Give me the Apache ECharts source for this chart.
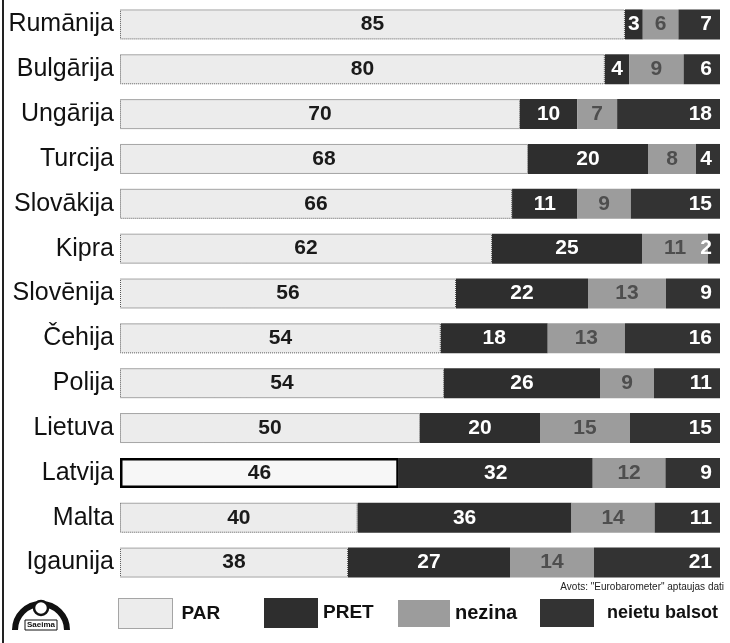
<!DOCTYPE html>
<html>
<head>
<meta charset="utf-8">
<script src="https://cdn.jsdelivr.net/npm/echarts@6/dist/echarts.min.js"></script>
<style>
html,body{margin:0;padding:0;background:#fff;}
#chart{width:730px;height:643px;}
</style>
</head>
<body>
<div id="chart"></div>
<script>
const countries = ["Rumānija","Bulgārija","Ungārija","Turcija","Slovākija","Kipra","Slovēnija","Čehija","Polija","Lietuva","Latvija","Malta","Igaunija"];
const par    = [85,80,70,68,66,62,56,54,54,50,46,40,38];
const pret   = [3,4,10,20,11,25,22,18,26,20,32,36,27];
const nezina = [6,9,7,8,9,11,13,13,9,15,12,14,14];
const neietu = [7,6,18,4,15,2,9,16,11,15,9,11,21];
const seriesNames = ["PAR","PRET","nezina","neietu balsot"];
const sourceNote = 'Avots: "Eurobarometer" aptaujas dati';

const raw = [par, pret, nezina, neietu];
const totals = countries.map((c, i) => par[i] + pret[i] + nezina[i] + neietu[i]);
// each bar shown as share of its row total (bars have equal length as in the source)
const share = raw.map(arr => arr.map((v, i) => v / totals[i] * 100));

const colors = ["#ececec", "#2e2e2e", "#9c9c9c", "#333333"];
const labelColors = ["#1a1a1a", "#ffffff", "#4e4e4e", "#ffffff"];
const FONT = 'Liberation Sans, Arial, sans-serif';

const chart = echarts.init(document.getElementById('chart'));

const series = seriesNames.map((name, k) => ({
  name: name,
  type: 'bar',
  stack: 'total',
  barWidth: 30,
  itemStyle: k === 0
    ? { color: colors[0], borderColor: '#555', borderWidth: 1, borderType: 'dotted' }
    : { color: colors[k] },
  label: {
    show: true,
    position: k === 3 ? 'insideRight' : 'inside',
    distance: 8,
    color: labelColors[k],
    fontFamily: FONT,
    fontWeight: 'bold',
    fontSize: 21,
    formatter: p => String(raw[k][p.dataIndex])
  },
  data: share[k].map((v, i) => {
    if (k === 0 && countries[i] === 'Latvija') {
      return { value: v, itemStyle: { color: '#f7f7f7', borderColor: '#000', borderWidth: 2.5, borderType: 'solid' } };
    }
    return v;
  })
}));

function legendFor(name, left, top, textExtra, extra) {
  return Object.assign({
    data: [name],
    left: left,
    top: top,
    padding: 0,
    icon: 'rect',
    itemWidth: 54,
    itemHeight: 30,
    itemGap: 0,
    selectedMode: false,
    textStyle: Object.assign({ fontFamily: FONT, fontSize: 19, fontWeight: 'bold', color: '#111' }, textExtra || {})
  }, extra || {});
}

const option = {
  backgroundColor: '#ffffff',
  animation: false,
  grid: { left: 120, right: 10, top: 2, bottom: 58, containLabel: false },
  xAxis: { type: 'value', min: 0, max: 100, show: false },
  yAxis: {
    type: 'category',
    data: countries,
    inverse: true,
    axisLine: { show: false },
    axisTick: { show: false },
    axisLabel: {
      margin: 6,
      color: '#111',
      fontFamily: FONT,
      fontSize: 25
    }
  },
  legend: [
    legendFor('PAR', 118, 598, { padding: [8, 0, 0, 4] }, { itemStyle: { color: '#ececec', borderColor: '#555', borderWidth: 1, borderType: 'dotted' } }),
    legendFor('PRET', 264, 598, { padding: [8, 0, 0, 0] }),
    legendFor('nezina', 398, 600, { fontSize: 20, padding: [14, 0, 0, 0] }, { itemWidth: 52, itemHeight: 27 }),
    legendFor('neietu balsot', 540, 599, { fontSize: 18, padding: [6, 0, 0, 8] }, { itemHeight: 28 })
  ],
  graphic: [
    { type: 'line', shape: { x1: 3, y1: 0, x2: 3, y2: 643 }, style: { stroke: '#222', lineWidth: 2 } },
    { type: 'text', right: 6, top: 582, style: { text: sourceNote, font: '10px ' + FONT, fill: '#222' } },
    { type: 'arc', shape: { cx: 41, cy: 630, r: 26, startAngle: Math.PI, endAngle: 2 * Math.PI }, style: { stroke: '#111', lineWidth: 6, fill: null } },
    { type: 'circle', shape: { cx: 41, cy: 608, r: 7 }, style: { fill: '#fff', stroke: '#111', lineWidth: 2.5 } },
    { type: 'rect', shape: { x: 25, y: 620, width: 32, height: 10 }, style: { fill: '#fff', stroke: '#111', lineWidth: 1 } },
    { type: 'text', x: 27, y: 621, style: { text: 'Saeima', font: 'bold 8px ' + FONT, fill: '#111' } }
  ],
  series: series
};
chart.setOption(option);
</script>
</body>
</html>
